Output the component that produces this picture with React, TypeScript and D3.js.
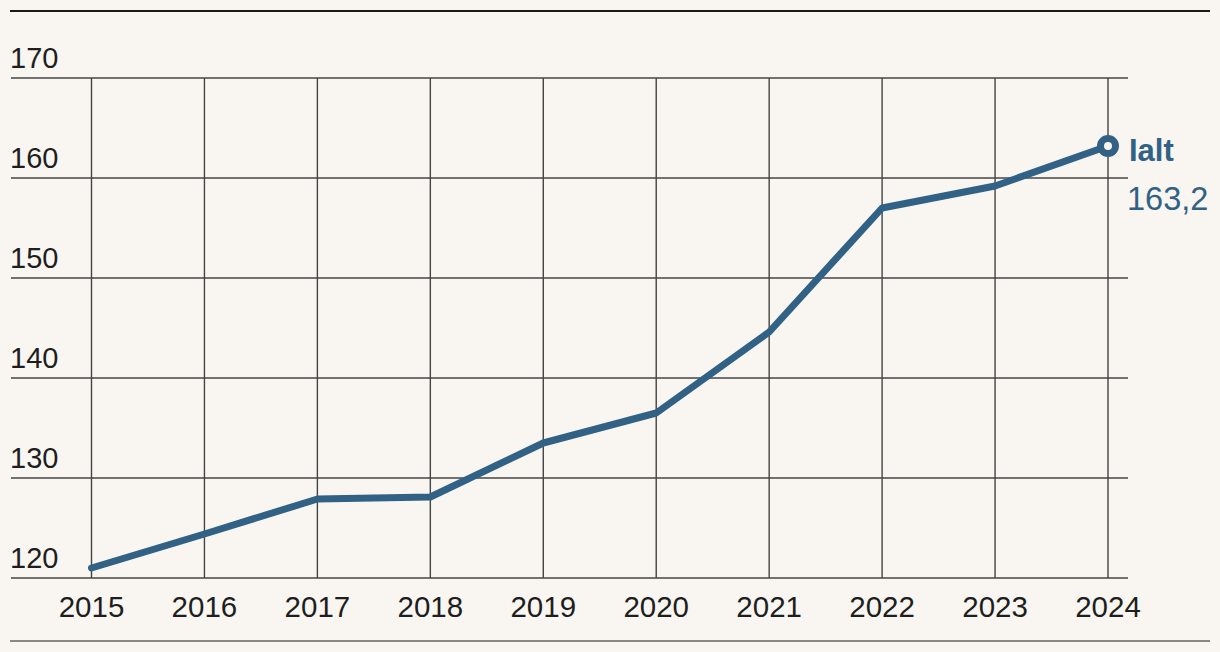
import React from "react";
import * as d3 from "d3";

const years = [2015, 2016, 2017, 2018, 2019, 2020, 2021, 2022, 2023, 2024];
const values = [121.0, 124.4, 127.9, 128.1, 133.5, 136.5, 144.6, 157.0, 159.2, 163.2];
const yTicks = [120, 130, 140, 150, 160, 170];
const seriesName = "Ialt";
const lastLabel = "163,2";

const W = 1220;
const H = 652;
const BG = "#f9f6f1";
const LINE = "#316285";
const GRID = "#444444";
const FONT = "'Liberation Sans', Arial, sans-serif";

export default function App() {
  const x = d3.scaleLinear().domain([2015, 2024]).range([91.5, 1108]);
  const y = d3.scaleLinear().domain([120, 170]).range([578, 78]);
  const line = d3
    .line<number>()
    .x((_, i) => x(years[i]))
    .y((d) => y(d));
  const lastX = x(years[years.length - 1]);
  const lastY = y(values[values.length - 1]);

  return (
    <svg
      width={W}
      height={H}
      style={{ position: "fixed", left: 0, top: 0, display: "block" }}
    >
      <rect x={0} y={0} width={W} height={H} fill={BG} />
      <line x1={10} x2={1210} y1={11} y2={11} stroke="#1a1a1a" strokeWidth={2} />
      <line x1={10} x2={1210} y1={641} y2={641} stroke="#888" strokeWidth={2} />

      {years.map((yr) => (
        <line
          key={"v" + yr}
          x1={x(yr)}
          x2={x(yr)}
          y1={y(170)}
          y2={y(120)}
          stroke={GRID}
          strokeWidth={1.4}
        />
      ))}
      {yTicks.map((t) => (
        <line
          key={"h" + t}
          x1={11}
          x2={1128}
          y1={y(t)}
          y2={y(t)}
          stroke={GRID}
          strokeWidth={1.4}
        />
      ))}
      {yTicks.map((t) => (
        <text
          key={"yl" + t}
          x={10}
          y={y(t) - 10}
          fontFamily={FONT}
          fontSize={29}
          fill="#1e1e1e"
        >
          {t}
        </text>
      ))}
      {years.map((yr) => (
        <text
          key={"xl" + yr}
          x={x(yr)}
          y={617}
          textAnchor="middle"
          fontFamily={FONT}
          fontSize={29.5}
          fill="#1e1e1e"
        >
          {yr}
        </text>
      ))}

      <path
        d={line(values) || ""}
        fill="none"
        stroke={LINE}
        strokeWidth={7}
        strokeLinecap="round"
        strokeLinejoin="round"
      />
      <circle cx={lastX} cy={lastY} r={7.5} fill={BG} stroke={LINE} strokeWidth={7} />
      <text
        x={1129}
        y={161}
        fontFamily={FONT}
        fontSize={31}
        fontWeight="bold"
        fill={LINE}
      >
        {seriesName}
      </text>
      <text x={1127} y={210} fontFamily={FONT} fontSize={32.5} fill={LINE}>
        {lastLabel}
      </text>
    </svg>
  );
}
